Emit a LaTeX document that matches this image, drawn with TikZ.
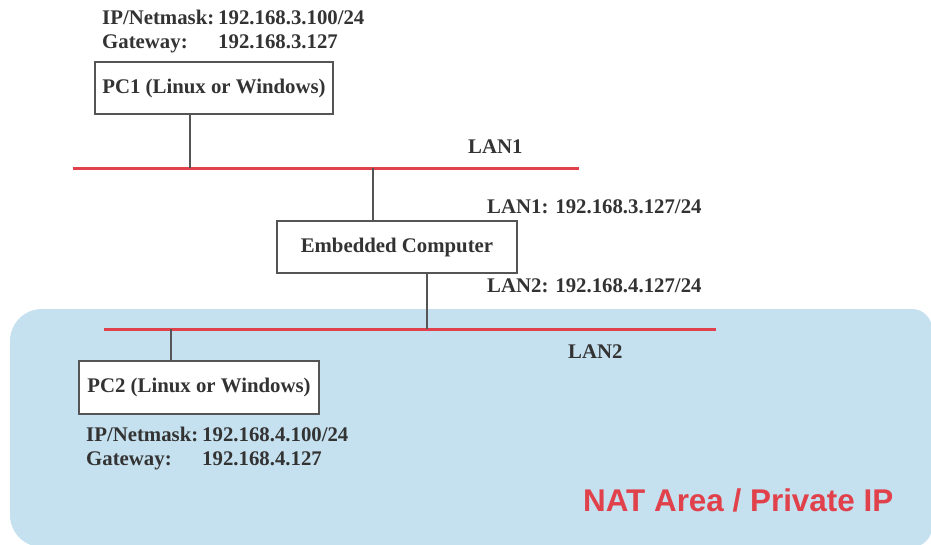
\documentclass[tikz,border=0pt]{standalone}
\usepackage{fontspec}
\setmainfont{Liberation Serif}
\newfontfamily\natfont{Liberation Sans}
\definecolor{areablue}{HTML}{C5E1EF}
\definecolor{lanred}{HTML}{E0414A}
\definecolor{txt}{HTML}{333333}
\definecolor{boxline}{HTML}{555555}
\begin{document}
\begin{tikzpicture}[x=1pt,y=-1pt,
  dev/.style={draw=boxline,line width=1.2pt,fill=white,inner sep=0pt,font=\bfseries\fontsize{20.8}{22}\selectfont,text=txt},
  lan/.style={draw=lanred,line width=3pt},
  wire/.style={draw=boxline,line width=1.1pt},
  lbl/.style={anchor=base west,inner sep=0pt,font=\bfseries\fontsize{20.8}{22}\selectfont,text=txt}]
\useasboundingbox (0,0) rectangle (931,544);
% NAT area
\fill[areablue] (200,547) [rounded corners=32pt] -- (10,547) -- (10,309) -- (880,309) [rounded corners=20pt] -- (932,309) -- (932,547) -- cycle;
% PC1 info
\node[lbl] (ip1k) at (102,24) {IP/Netmask:};
\node[lbl] (ip1v) at (218,24) {192.168.3.100/24};
\node[lbl] (gw1k) at (102,48.5) {Gateway:};
\node[lbl] (gw1v) at (218,48.5) {192.168.3.127};
% devices
\node[dev,minimum width=238pt,minimum height=52pt] (pc1) at (214,88) {PC1 (Linux or Windows)};
\node[dev,minimum width=240pt,minimum height=52pt] (emb) at (397,247) {Embedded Computer};
\node[dev,minimum width=240pt,minimum height=53pt] (pc2) at (199,387.5) {PC2 (Linux or Windows)};
% LANs
\coordinate (l1a) at (73,168); \coordinate (l1b) at (579,168);
\coordinate (l2a) at (104,329); \coordinate (l2b) at (716,329);
\path[lan] (l1a) -- (l1b);
\path[lan] (l2a) -- (l2b);
\coordinate (t1) at (190,168);
\coordinate (t2) at (373,168);
\coordinate (t3) at (427,329);
\coordinate (t4) at (171,329);
\path[wire] (pc1.south -| t1) -- (t1);
\path[wire] (t2) -- (emb.north -| t2);
\path[wire] (emb.south -| t3) -- (t3);
\path[wire] (t4) -- (pc2.north -| t4);
% LAN labels
\node[lbl] (lan1) at (468,153) {LAN1};
\node[lbl] (e1) at (487,213) {LAN1: 192.168.3.127/24};
\node[lbl] (e2) at (487,292) {LAN2: 192.168.4.127/24};
\node[lbl] (lan2) at (568,358) {LAN2};
% PC2 info
\node[lbl] (ip2k) at (86,441) {IP/Netmask:};
\node[lbl] (ip2v) at (202,441) {192.168.4.100/24};
\node[lbl] (gw2k) at (86,465) {Gateway:};
\node[lbl] (gw2v) at (202,465) {192.168.4.127};
% NAT label
\node[anchor=base west,inner sep=0pt,text=lanred,font=\natfont\bfseries\fontsize{31.4}{33}\selectfont] (nat) at (583,511) {NAT Area / Private IP};
\end{tikzpicture}
\end{document}
